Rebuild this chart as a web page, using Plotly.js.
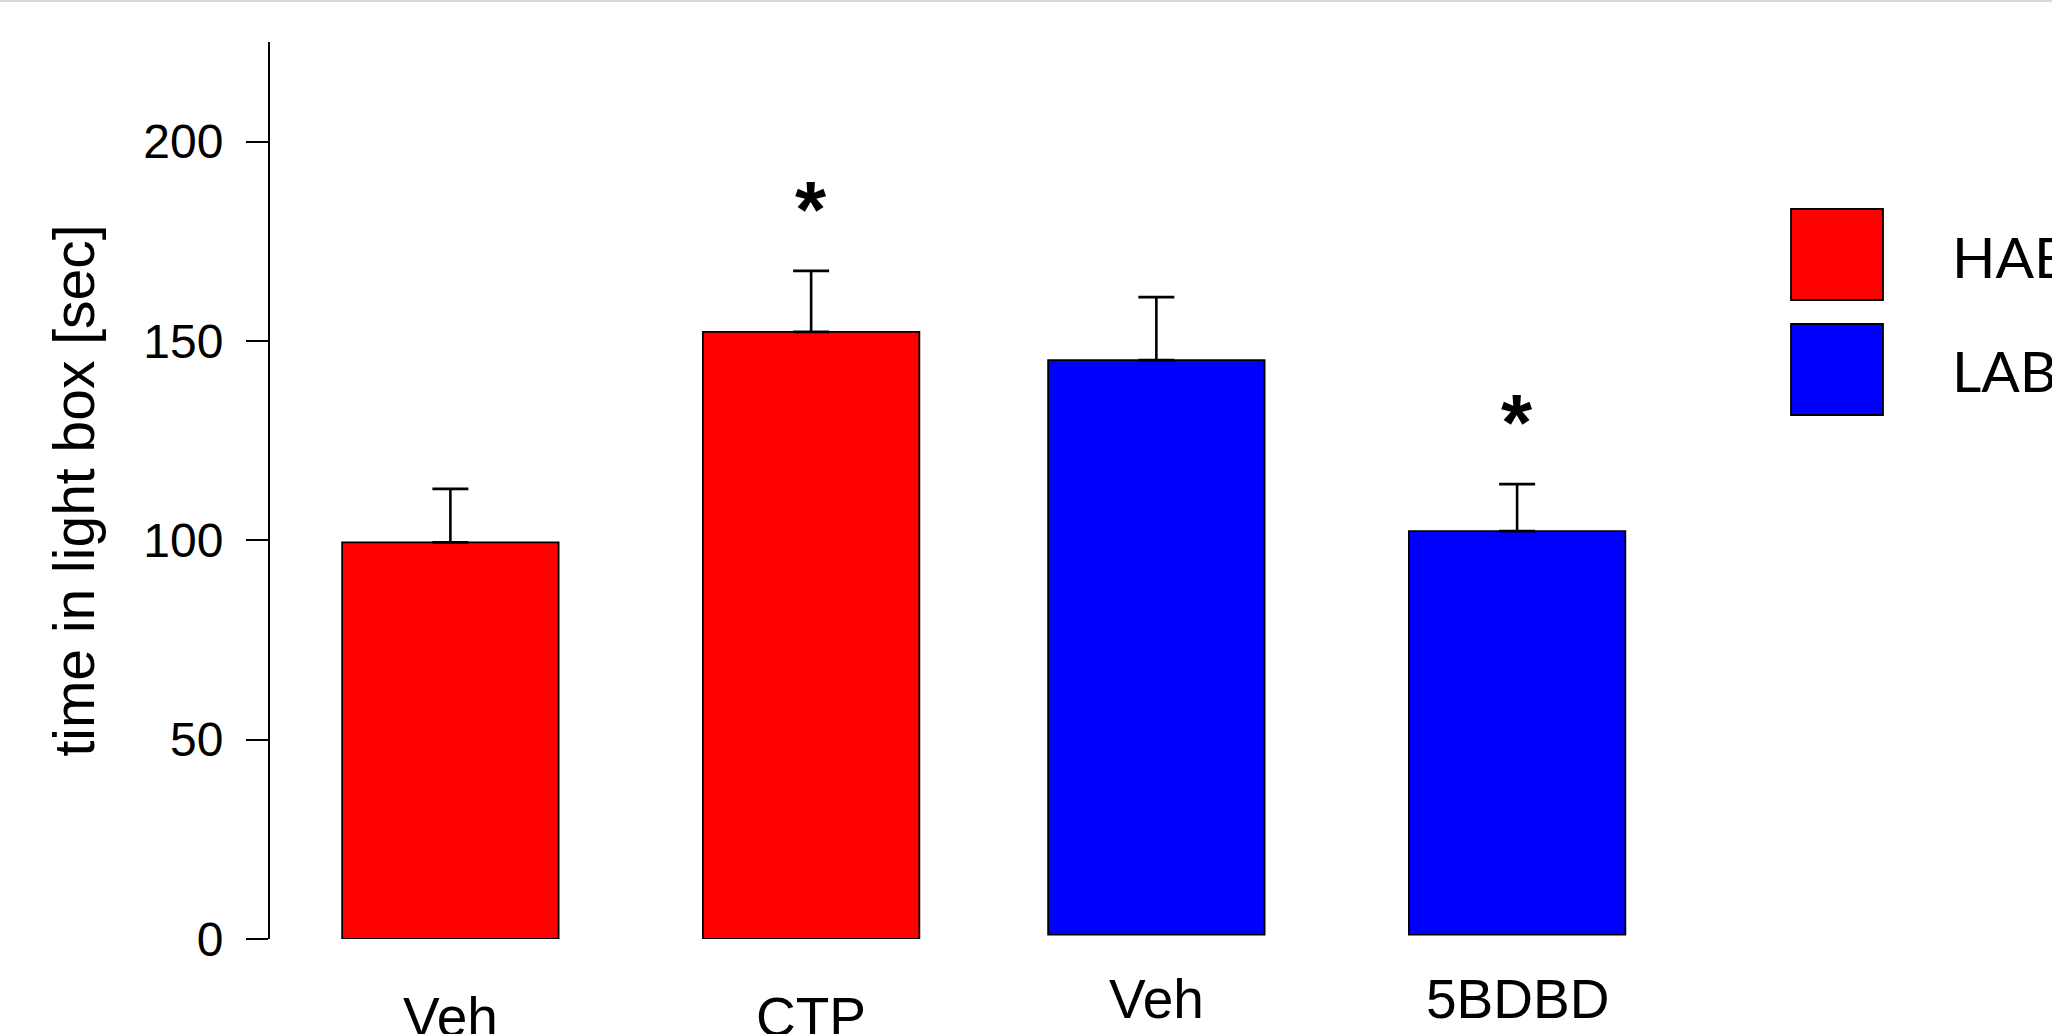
<!DOCTYPE html>
<html><head><meta charset="utf-8">
<script src="https://cdn.plot.ly/plotly-3.0.1.min.js"></script>
<style>html,body{margin:0;padding:0;background:#fff;overflow:hidden;} #chart{width:2052px;height:1034px;}</style>
</head><body><div id="chart"></div>
<script>
// ---- data ----
const groups = ['HAB', 'LAB'];
const habLabels = ['Veh', 'CTP'];
const labLabels = ['Veh', '5BDBD'];
const habMeans = [99.5, 152.3];
const habSEM = [13.4, 15.3];
const labMeans = [144.1, 101.2];
const labSEM = [15.8, 11.8];
const habSignificant = [false, true];
const labSignificant = [false, true];
const yTicks = [0, 50, 100, 150, 200];
const yTitle = 'time in light box [sec]';

// ---- layout helpers ----
const W = 2052, H = 1034;
const M = {l: 270, r: 339, t: 42, b: 95};
const PW = W - M.l - M.r, PH = H - M.t - M.b;
const px = x => (x - M.l) / PW;
const py = y => (H - M.b - y) / PH;
const FONT = 'Liberation Sans, Arial, sans-serif';
const RED = '#ff0000', BLUE = '#0000ff';
const labShift = -0.043;   // blue panel is pasted slightly left
const labBase = 1.1;       // ...and slightly up
const habX = habLabels.map((_, i) => i + 1);
const labX = labLabels.map((_, i) => i + 1 + habLabels.length);

function barTrace(x, y, err, color, name, base, shift) {
  const t = {
    type: 'bar', name: name, x: x, y: y, width: 0.6, offset: -0.3 + shift,
    marker: {color: color, line: {color: '#000', width: 1.8}},
    error_y: {type: 'data', symmetric: false, array: err, arrayminus: err.map(() => 0),
              color: '#000', thickness: 2.6, width: 18},
    showlegend: false, hoverinfo: 'skip'
  };
  if (base) t.base = base;
  return t;
}

const data = [
  barTrace(habX, habMeans, habSEM, RED, groups[0], 0, 0),
  barTrace(labX, labMeans, labSEM, BLUE, groups[1], labBase, labShift)
];

const annotations = [];
// category labels
habLabels.forEach((t, i) => annotations.push({
  xref: 'x', yref: 'paper', x: habX[i], y: py(1016.7), text: t, showarrow: false,
  xanchor: 'center', yanchor: 'middle', font: {family: FONT, size: 55, color: '#000'}
}));
labLabels.forEach((t, i) => annotations.push({
  xref: 'x', yref: 'paper', x: labX[i] + labShift, y: py(999), text: t, showarrow: false,
  xanchor: 'center', yanchor: 'middle', font: {family: FONT, size: 55, color: '#000'}
}));
// significance asterisks
function star(x, top) {
  annotations.push({xref: 'x', yref: 'y', x: x, y: top + 19, text: '*', showarrow: false,
    xanchor: 'center', yanchor: 'middle', yshift: -14,
    font: {family: FONT, size: 80, color: '#000', weight: 'bold'}});
}
habSignificant.forEach((s, i) => { if (s) star(habX[i], habMeans[i] + habSEM[i]); });
labSignificant.forEach((s, i) => { if (s) star(labX[i] + labShift, labBase + labMeans[i] + labSEM[i]); });

// legend (drawn manually: large square keys)
const shapes = [
  {type: 'line', xref: 'paper', yref: 'paper', x0: px(0), x1: px(W), y0: py(1), y1: py(1),
   line: {color: '#d8d8d8', width: 2}},
  {type: 'rect', xref: 'paper', yref: 'paper', x0: px(1791), x1: px(1883), y0: py(209), y1: py(300),
   fillcolor: RED, line: {color: '#000', width: 1.8}},
  {type: 'rect', xref: 'paper', yref: 'paper', x0: px(1791), x1: px(1883), y0: py(324), y1: py(415),
   fillcolor: BLUE, line: {color: '#000', width: 1.8}}
];
[[groups[0], 256], [groups[1], 370]].forEach(([t, y]) => annotations.push({
  xref: 'paper', yref: 'paper', x: px(1950), y: py(y), text: t, showarrow: false,
  xanchor: 'left', yanchor: 'middle', font: {family: 'Lato, Open Sans, sans-serif', size: 57, color: '#000'}
}));

const layout = {
  width: W, height: H, margin: M,
  paper_bgcolor: '#fff', plot_bgcolor: '#fff',
  barmode: 'overlay', showlegend: false,
  font: {family: FONT, color: '#000'},
  xaxis: {range: [0.5, 4.5], visible: false, fixedrange: true},
  yaxis: {
    range: [0, 225], tickvals: yTicks, ticks: 'outside', ticklen: 22, tickwidth: 2,
    tickcolor: '#000', showline: true, linecolor: '#000', linewidth: 2,
    showgrid: false, zeroline: false, tickfont: {family: FONT, size: 48, color: '#000'},
    ticklabelstandoff: 13,
    title: {text: yTitle, font: {family: FONT, size: 57, color: '#000'}, standoff: 30},
    fixedrange: true
  },
  shapes: shapes, annotations: annotations
};

Plotly.newPlot('chart', data, layout, {displayModeBar: false, staticPlot: true});
</script>
</body></html>
